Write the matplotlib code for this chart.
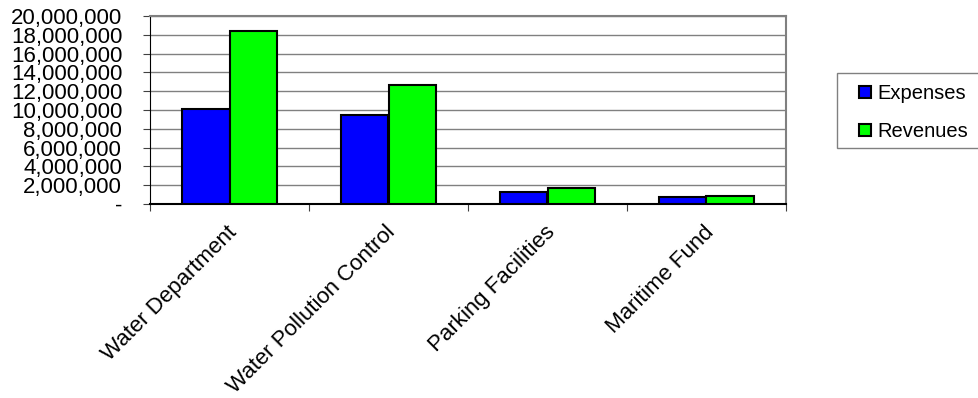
import numpy as np
import matplotlib.pyplot as plt
from matplotlib.patches import Rectangle
from matplotlib.transforms import ScaledTranslation
from matplotlib.ticker import FuncFormatter, FixedLocator

plt.rcParams['font.family'] = ['Liberation Sans', 'DejaVu Sans']

# Enterprise fund totals
funds = ['Water Department', 'Water Pollution Control', 'Parking Facilities', 'Maritime Fund']
expenses = [10100000, 9470000, 1310000, 780000]
revenues = [18430000, 12660000, 1730000, 850000]

x = np.arange(len(funds))
width = 0.3

W, H = 979, 398
fig = plt.figure(figsize=(W / 100, H / 100), dpi=100)
ax = fig.add_axes([150 / W, 1 - 204 / H, 636 / W, 188 / H])

ax.bar(x - width / 2, expenses, width, color='#0000FF', edgecolor='black', linewidth=1.5,
       label='Expenses', zorder=3)
ax.bar(x + width / 2, revenues, width, color='#00FF00', edgecolor='black', linewidth=1.5,
       label='Revenues', zorder=3)

ax.set_xlim(-0.5, len(funds) - 0.5)
ax.set_ylim(0, 20000000)
ax.set_yticks(np.arange(0, 20000001, 2000000))
ax.yaxis.set_major_formatter(FuncFormatter(lambda v, p: '-' if v == 0 else f'{v:,.0f}'))
ax.tick_params(axis='y', labelsize=16, length=5, pad=15, color='#404040')
ax.grid(axis='y', color='#808080', linewidth=1, zorder=0)

# category boundaries carry the ticks, centres carry the labels
ax.xaxis.set_major_locator(FixedLocator(np.arange(len(funds) + 1) - 0.5))
ax.set_xticklabels([])
ax.xaxis.set_minor_locator(FixedLocator(x))
ax.set_xticklabels(funds, minor=True, rotation=45, ha='right', va='center',
                   rotation_mode='anchor', fontsize=16)
ax.tick_params(axis='x', which='major', length=5, color='#404040')
ax.tick_params(axis='x', which='minor', length=0, pad=18)
nudge = ScaledTranslation(4 / 100, 0, fig.dpi_scale_trans)
for lbl in ax.get_xticklabels(minor=True):
    lbl.set_transform(lbl.get_transform() + nudge)

for side in ['top', 'right']:
    ax.spines[side].set_color('#808080')
    ax.spines[side].set_linewidth(1.5)
ax.spines['left'].set_color('black')
ax.spines['bottom'].set_color('black')
ax.spines['bottom'].set_linewidth(1.5)

# legend box runs off the right edge of the figure
fig.patches.append(Rectangle((837 / W, 1 - 148 / H), 160 / W, 75 / H, transform=fig.transFigure,
                             facecolor='white', edgecolor='#808080', linewidth=1))
fig.legend(loc='upper left', bbox_to_anchor=(859 / W, 1 - 84 / H), fontsize=14.5,
           frameon=False, handlelength=0.6, handleheight=0.5, handletextpad=0.3,
           labelspacing=0.95, borderpad=0, borderaxespad=0)

fig.savefig('out.png', dpi=100)
